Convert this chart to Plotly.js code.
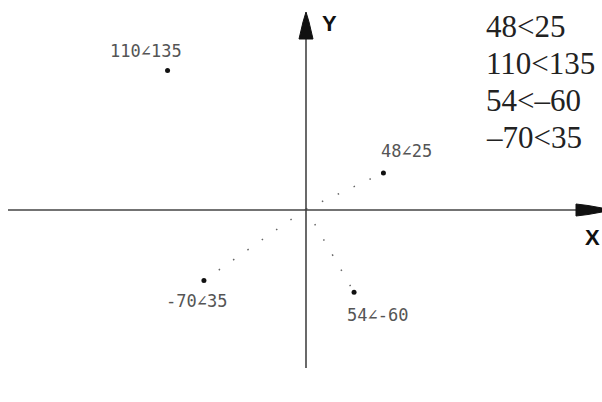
<!DOCTYPE html>
<html>
<head>
<meta charset="utf-8">
<script src="https://cdn.plot.ly/plotly-3.0.1.min.js"></script>
<style>
  html, body { margin: 0; padding: 0; background: #fff; }
  #plot { width: 602px; height: 402px; }
</style>
</head>
<body>
<div id="plot"></div>
<script>
// Polar points written as r<θ (θ in degrees)
const radii = [48, 110, 54, -70];
const angles = [25, 135, -60, 35];
const pointLabels = ["48∠25", "110∠135", "54∠-60", "-70∠35"];
const listLabels = ["48<25", "110<135", "54<–60", "–70<35"];
const dottedRay = [true, false, true, true];

const W = 602, H = 402;
const unit = 1.78;              // pixels per unit
const ox = 306, oy = 209;       // origin in pixels
const xRange = [-ox / unit, (W - ox) / unit];
const yRange = [-(H - oy) / unit, oy / unit];

const toRad = d => d * Math.PI / 180;
const xs = radii.map((r, i) => r * Math.cos(toRad(angles[i])));
const ys = radii.map((r, i) => r * Math.sin(toRad(angles[i])));

// pixel -> paper helpers for the axis decorations
const px = v => v / W;
const py = v => 1 - v / H;

const traces = [];
// dotted rays from the origin
radii.forEach((r, i) => {
  if (!dottedRay[i]) return;
  traces.push({
    type: 'scatter', mode: 'lines',
    x: [0, xs[i]], y: [0, ys[i]],
    line: { color: '#666', width: 1.5, dash: '1.5px,16px' },
    hoverinfo: 'skip', showlegend: false
  });
});
// the points
traces.push({
  type: 'scatter', mode: 'markers',
  x: xs, y: ys,
  marker: { color: '#111', size: 5 },
  showlegend: false, hoverinfo: 'skip'
});

const labelShift = [[23, 22], [-22, 20], [23, -23], [-7, -21]];
const annotations = pointLabels.map((t, i) => ({
  x: xs[i], y: ys[i], xref: 'x', yref: 'y',
  text: t, showarrow: false,
  xshift: labelShift[i][0], yshift: labelShift[i][1],
  font: { family: 'DejaVu Sans Mono', size: 17, color: '#555' }
}));

// list of points in the top-right corner
listLabels.forEach((t, i) => {
  annotations.push({
    x: px(484), y: py(27 + i * 36.7), xref: 'paper', yref: 'paper',
    xanchor: 'left', yanchor: 'middle', text: t, showarrow: false,
    font: { family: 'Liberation Serif', size: 31, color: '#222' }
  });
});

// axis letters
annotations.push({
  x: px(329), y: py(24), xref: 'paper', yref: 'paper', text: '<b>Y</b>',
  xanchor: 'center', yanchor: 'middle',
  showarrow: false, font: { family: 'Liberation Sans', size: 22, color: '#111' }
});
annotations.push({
  x: px(592), y: py(237), xref: 'paper', yref: 'paper', text: '<b>X</b>',
  xanchor: 'center', yanchor: 'middle',
  showarrow: false, font: { family: 'Liberation Sans', size: 22, color: '#111' }
});

const pathOf = pts => 'M ' + pts.map(p => px(p[0]) + ',' + py(p[1])).join(' L ') + ' Z';

const shapes = [
  // x axis
  { type: 'line', xref: 'paper', yref: 'paper', x0: px(8), x1: px(580), y0: py(210), y1: py(210),
    line: { color: '#444', width: 1.6 } },
  // y axis
  { type: 'line', xref: 'paper', yref: 'paper', x0: px(306), x1: px(306), y0: py(368), y1: py(36),
    line: { color: '#444', width: 1.6 } },
  // arrow heads
  { type: 'path', xref: 'paper', yref: 'paper', fillcolor: '#111', line: { color: '#111', width: 1 },
    path: pathOf([[576, 204], [588, 205.5], [602, 208], [602, 212], [588, 214.5], [576, 216]]) },
  { type: 'path', xref: 'paper', yref: 'paper', fillcolor: '#111', line: { color: '#111', width: 1 },
    path: pathOf([[306, 12], [309, 22], [313, 39], [299, 39], [303, 22]]) }
];

const layout = {
  width: W, height: H,
  margin: { l: 0, r: 0, t: 0, b: 0 },
  paper_bgcolor: '#fff', plot_bgcolor: '#fff',
  xaxis: { range: xRange, visible: false, fixedrange: true },
  yaxis: { range: yRange, visible: false, fixedrange: true },
  annotations, shapes, showlegend: false
};

Plotly.newPlot('plot', traces, layout, { staticPlot: true });
</script>
</body>
</html>
